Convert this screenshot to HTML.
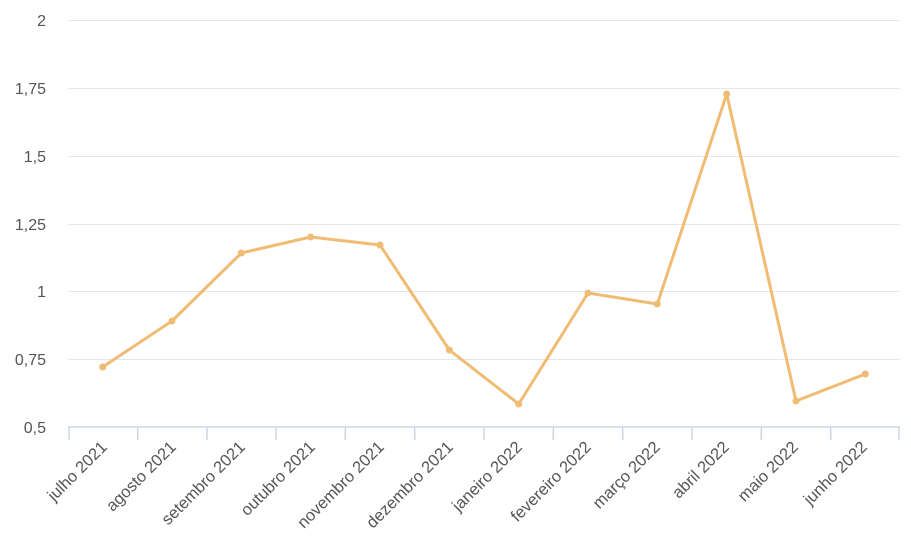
<!DOCTYPE html>
<html><head><style>body{margin:0;background:#fff}</style></head><body>
<svg width="911" height="546" xmlns="http://www.w3.org/2000/svg" font-family="Liberation Sans, sans-serif">
<g stroke="#e3e6ee" stroke-width="1">
<line x1="68" x2="900" y1="20.5" y2="20.5"/><line x1="68" x2="900" y1="88.5" y2="88.5"/><line x1="68" x2="900" y1="156.5" y2="156.5"/><line x1="68" x2="900" y1="224.5" y2="224.5"/><line x1="68" x2="900" y1="291.5" y2="291.5"/><line x1="68" x2="900" y1="359.5" y2="359.5"/>
</g>
<g stroke="#cdd5e6" stroke-width="1.5">
<line x1="68" x2="900" y1="427" y2="427"/>
<line x1="69" x2="69" y1="427" y2="440"/><line x1="137.7" x2="137.7" y1="427" y2="440"/><line x1="207" x2="207" y1="427" y2="440"/><line x1="276" x2="276" y1="427" y2="440"/><line x1="345.3" x2="345.3" y1="427" y2="440"/><line x1="414.7" x2="414.7" y1="427" y2="440"/><line x1="484" x2="484" y1="427" y2="440"/><line x1="553.3" x2="553.3" y1="427" y2="440"/><line x1="622.7" x2="622.7" y1="427" y2="440"/><line x1="692" x2="692" y1="427" y2="440"/><line x1="761.3" x2="761.3" y1="427" y2="440"/><line x1="830.7" x2="830.7" y1="427" y2="440"/><line x1="899" x2="899" y1="427" y2="440"/>
</g>
<g fill="#555" font-size="16" text-anchor="end">
<text x="46" y="26">2</text><text x="46" y="94">1,75</text><text x="46" y="162">1,5</text><text x="46" y="230">1,25</text><text x="46" y="297">1</text><text x="46" y="365">0,75</text><text x="46" y="433">0,5</text>
</g>
<g fill="#555" font-size="16.5" text-anchor="end">
<text transform="translate(108,448) rotate(-45)">julho 2021</text>
<text transform="translate(177,448) rotate(-45)">agosto 2021</text>
<text transform="translate(246,448) rotate(-45)">setembro 2021</text>
<text transform="translate(316,448) rotate(-45)">outubro 2021</text>
<text transform="translate(385,448) rotate(-45)">novembro 2021</text>
<text transform="translate(454,448) rotate(-45)">dezembro 2021</text>
<text transform="translate(523,448) rotate(-45)">janeiro 2022</text>
<text transform="translate(592,448) rotate(-45)">fevereiro 2022</text>
<text transform="translate(661,448) rotate(-45)">março 2022</text>
<text transform="translate(730,448) rotate(-45)">abril 2022</text>
<text transform="translate(799,448) rotate(-45)">maio 2022</text>
<text transform="translate(868,448) rotate(-45)">junho 2022</text>
</g>
<polyline fill="none" stroke="#f0bc74" stroke-width="3" stroke-linejoin="round" points="102.7,367 172,321 241.3,253 310.7,237 380,245 449.3,350 518.7,404 588,293 657.3,304 726.7,94 796,401 865.3,374"/>
<g fill="#f0bc74">
<circle cx="102.7" cy="367" r="3.5"/><circle cx="172" cy="321" r="3.5"/><circle cx="241.3" cy="253" r="3.5"/><circle cx="310.7" cy="237" r="3.5"/><circle cx="380" cy="245" r="3.5"/><circle cx="449.3" cy="350" r="3.5"/><circle cx="518.7" cy="404" r="3.5"/><circle cx="588" cy="293" r="3.5"/><circle cx="657.3" cy="304" r="3.5"/><circle cx="726.7" cy="94" r="3.5"/><circle cx="796" cy="401" r="3.5"/><circle cx="865.3" cy="374" r="3.5"/>
</g>
</svg>
</body></html>
